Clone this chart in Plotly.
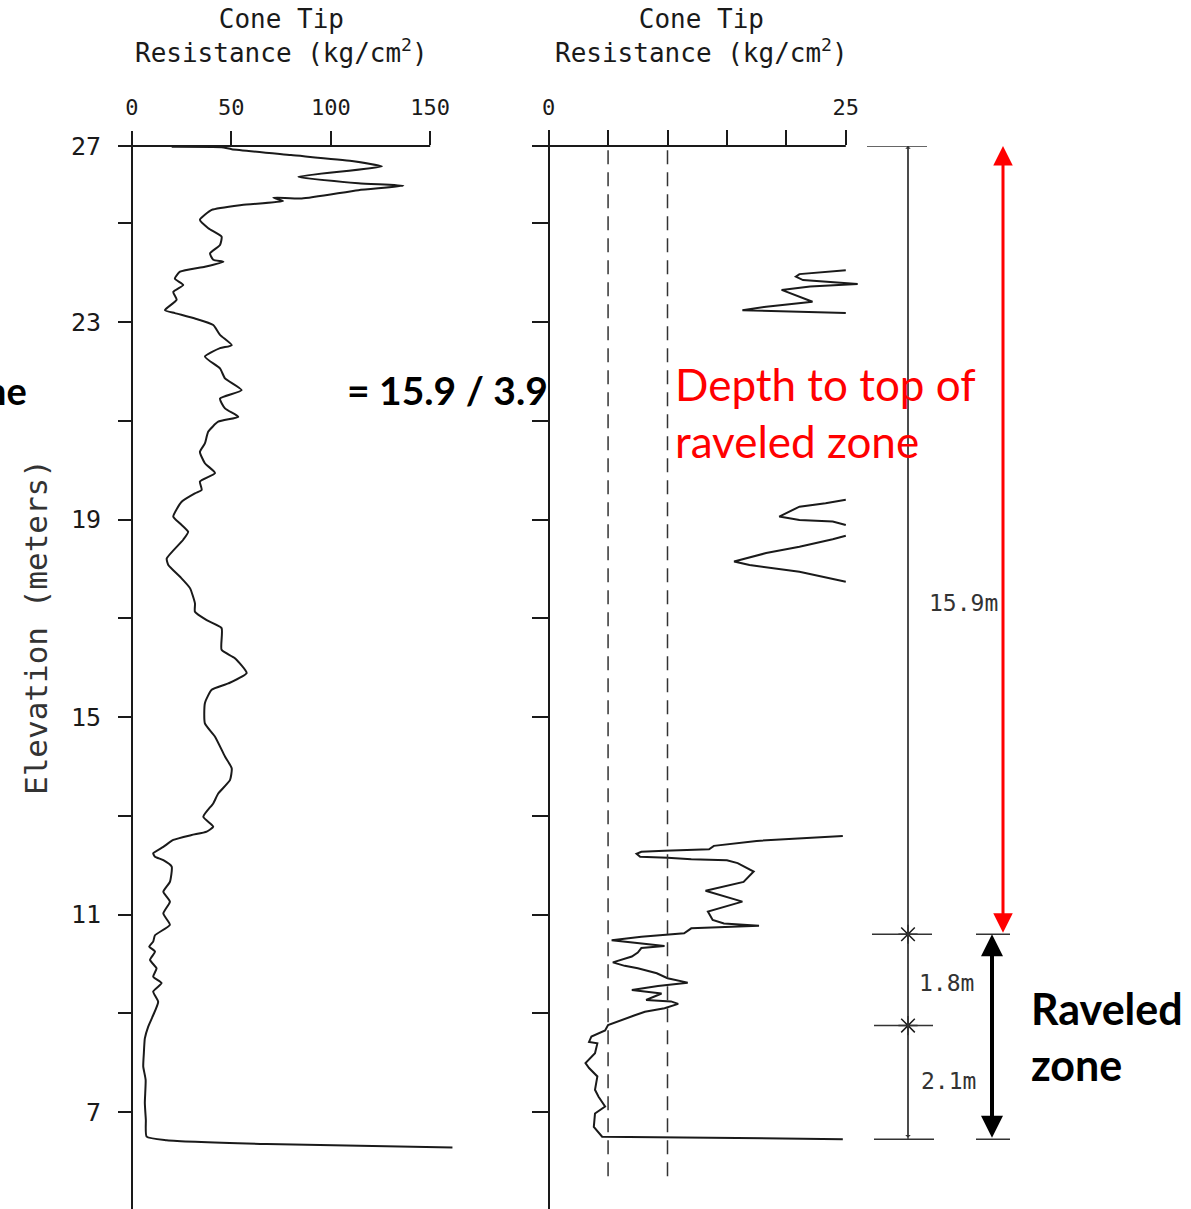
import plotly.graph_objects as go

# ------------------------------------------------------------------ data
# Left profile: elevation (m) and cone tip resistance (kg/cm2), full scale 0-150
left_elev = [26.55, 26.54, 26.50, 26.38, 26.26, 26.15, 25.94, 25.81, 25.76, 25.67, 25.50, 25.52,
             25.45, 25.37, 25.27, 25.07, 24.90, 24.73, 24.56, 24.39, 24.26, 24.22, 24.12, 24.02,
             23.88, 23.75, 23.61, 23.45, 23.24, 23.18, 23.07, 22.94, 22.74, 22.53, 22.47, 22.30,
             22.06, 21.86, 21.62, 21.45, 21.25, 21.08, 20.98, 20.78, 20.54, 20.37, 20.14, 19.94,
             19.77, 19.60, 19.53, 19.36, 19.06, 18.92, 18.75, 18.59, 18.21, 18.08, 17.84, 17.61,
             17.30, 17.13, 16.96, 16.80, 16.36, 16.19, 15.89, 15.68, 15.55, 15.28, 14.87, 14.60,
             14.20, 13.96, 13.72, 13.45, 13.25, 12.98, 12.78, 12.68, 12.61, 12.51, 12.37, 12.24,
             12.17, 12.10, 11.97, 11.66, 11.46, 11.26, 11.02, 10.79, 10.58, 10.45, 10.35, 10.25,
             10.08, 9.91, 9.74, 9.61, 9.44, 9.23, 8.96, 8.73, 8.49, 8.19, 7.92, 7.65, 7.18, 6.84,
             6.50, 6.43, 6.35, 6.28]
left_qc = [20.0, 45.0, 50.2, 80.0, 110.6, 125.7, 83.7, 113.9, 136.5, 113.9, 85.4, 71.1,
           76.0, 55.2, 40.1, 34.2, 38.4, 45.1, 44.3, 39.3, 40.9, 46.0, 36.7, 24.2,
           21.6, 25.8, 20.8, 22.5, 16.6, 21.6, 31.7, 40.9, 44.3, 50.2, 44.3, 36.7,
           44.3, 46.8, 55.2, 44.3, 46.8, 53.5, 43.4, 38.4, 36.7, 34.2, 36.7, 41.8,
           34.2, 35.1, 31.7, 25.0, 20.8, 24.2, 28.3, 25.8, 17.5, 18.3, 24.2, 29.2,
           31.7, 31.7, 37.6, 45.1, 45.1, 51.8, 57.7, 48.5, 40.1, 36.7, 36.7, 41.8,
           46.8, 50.2, 49.3, 43.4, 40.9, 35.9, 40.9, 37.6, 30.0, 20.8, 15.8, 10.7,
           11.6, 15.8, 20.0, 19.1, 15.8, 19.1, 15.8, 19.1, 11.6, 10.7, 8.7, 11.6,
           9.1, 12.4, 10.7, 14.9, 10.7, 13.2, 10.7, 8.2, 6.5, 6.0, 5.7, 6.9, 6.5, 7.0,
           7.4, 17.5, 67.8, 161.2]

# Right profile: same sounding on an expanded 0-25 scale (off-scale parts are not drawn)
right_elev = [24.05, 23.97, 23.92, 23.85, 23.77, 23.72, 23.65, 23.41, 23.31, 23.24, 23.18, None,
              19.40, 19.33, 19.26, 19.06, 18.99, 18.96, 18.89, None,
              18.67, 18.60, 18.45, 18.32, 18.15, 18.08, 17.94, 17.74, None,
              12.59, 12.49, 12.39, 12.32, 12.29, 12.27, 12.23, 12.17, 12.15, 12.12, 12.10, 12.04,
              11.87, 11.66, 11.48, 11.36, 11.26, 11.06, 10.89, 10.82, 10.77, 10.72, 10.62, 10.55,
              10.48, 10.43, 10.36, 10.32, 10.23, 10.15, 10.03, 9.96, 9.91, 9.81, 9.71, 9.62,
              9.55, 9.47, 9.40, 9.34, 9.27, 9.24, 9.19, 9.10, 9.03, 8.96, 8.76, 8.65, 8.53,
              8.42, 8.39, 8.19, 7.99, 7.89, 7.72, 7.45, 7.31, 7.11, 6.97, 6.70, 6.50, 6.45]
right_qc = [25.0, 21.1, 20.8, 21.4, 26.0, 22.0, 19.6, 22.2, 18.3, 16.3, 25.0, None,
            25.0, 23.3, 21.1, 19.4, 21.1, 23.9, 25.0, None,
            25.0, 23.9, 21.1, 18.3, 15.6, 16.9, 21.1, 25.0, None,
            24.75, 17.5, 13.9, 13.5, 9.75, 7.8, 7.4, 7.7, 10.0, 12.0, 15.0, 15.9,
            17.25, 16.4, 13.2, 15.0, 16.3, 13.4, 13.8, 14.75, 17.7, 12.0, 11.4, 7.8,
            5.3, 7.25, 9.75, 7.8, 7.5, 7.0, 5.4, 6.4, 7.5, 9.1, 10.0, 11.7,
            9.2, 7.0, 9.5, 8.9, 8.2, 10.3, 10.9, 9.75, 8.1, 7.25, 5.0, 4.75, 3.6,
            3.4, 4.1, 3.9, 3.1, 3.4, 4.1, 3.9, 4.2, 4.75, 3.9, 3.8, 4.5, 24.75]

left_x_ticks = [0, 50, 100, 150]
right_x_ticks = [0, 5, 10, 15, 20, 25]
right_x_ticktext = ["0", "", "", "", "", "25"]
ref_lines_qc = [5, 10]            # dashed reference lines (kg/cm2)
ref_line_bottom_elev = 5.7
elev_minor_ticks = [25, 23, 21, 19, 17, 15, 13, 11, 9, 7, 5]
elev_labels = {23: "23", 19: "19", 15: "15", 11: "11", 7: "7"}
top_label = "27"

# raveled-zone boundaries (elevation, m) and dimension labels
zone_top_elev = 10.6
zone_mid_elev = 8.75
zone_bot_elev = 6.45
dim_labels = ["15.9m", "1.8m", "2.1m"]

# ------------------------------------------------------------------ layout constants
W, H = 1191, 1209
Y_TOP = 7 + (1112 - 146) / 49.375
Y_BOT = 7 - (1209 - 1112) / 49.375
y_dom = [0, 1 - 146 / H]

def px(p):
    return p / W

def py(p):
    return 1 - p / H

PLOT_FONT = "DejaVu Sans Mono"
INK = "#1a1a1a"

fig = go.Figure()

fig.add_trace(go.Scatter(x=left_qc, y=left_elev, mode="lines", xaxis="x", yaxis="y",
                         line=dict(color=INK, width=2, shape="spline", smoothing=0.5),
                         showlegend=False, hoverinfo="skip"))
fig.add_trace(go.Scatter(x=right_qc, y=right_elev, mode="lines", xaxis="x2", yaxis="y2",
                         line=dict(color=INK, width=2), showlegend=False, hoverinfo="skip",
                         connectgaps=False))

# asterisk markers on the dimension line
fig.add_trace(go.Scatter(x=[908, 908], y=[zone_top_elev, zone_mid_elev], mode="markers",
                         xaxis="x3", yaxis="y2",
                         marker=dict(symbol="asterisk-open", size=16, color=INK,
                                     line=dict(width=1.5, color=INK)),
                         showlegend=False, hoverinfo="skip"))

left_tickvals = [Y_TOP] + elev_minor_ticks
left_ticktext = [top_label] + [elev_labels.get(v, "") for v in elev_minor_ticks]

axis_common = dict(showgrid=False, showline=False, color=INK, automargin=False)

fig.update_layout(
    width=W, height=H, margin=dict(l=0, r=0, t=0, b=0, pad=0, autoexpand=False),
    paper_bgcolor="white", plot_bgcolor="white", showlegend=False,
    xaxis=dict(domain=[px(118), px(460)], range=[-7, 165], side="top", anchor="y",
               tickvals=left_x_ticks, ticks="outside", ticklen=14, tickwidth=2, tickcolor=INK,
               zeroline=True, zerolinecolor=INK, zerolinewidth=2,
               tickfont=dict(family=PLOT_FONT, size=22, color=INK), ticklabelstandoff=7,
               **axis_common),
    yaxis=dict(domain=y_dom, range=[Y_BOT, Y_TOP], anchor="x",
               tickvals=left_tickvals, ticktext=left_ticktext, ticks="inside", ticklen=14,
               tickwidth=2, tickcolor=INK, zeroline=False,
               tickfont=dict(family=PLOT_FONT, size=25, color=INK), ticklabelstandoff=16,
               **axis_common),
    xaxis2=dict(domain=[px(532), px(866)], range=[-1.4, 26.7], side="top", anchor="y2",
                tickvals=right_x_ticks, ticktext=right_x_ticktext, ticks="outside", ticklen=15,
                tickwidth=2, tickcolor=INK, zeroline=True, zerolinecolor=INK, zerolinewidth=2,
                tickfont=dict(family=PLOT_FONT, size=22, color=INK), ticklabelstandoff=6,
                **axis_common),
    yaxis2=dict(domain=y_dom, range=[Y_BOT, Y_TOP], anchor="x2",
                tickvals=elev_minor_ticks, ticks="inside", ticklen=16, tickwidth=2,
                tickcolor=INK, showticklabels=False, zeroline=False, **axis_common),
    xaxis3=dict(domain=[px(860), 1.0], range=[860, 1191], anchor="y2", visible=False,
                showgrid=False, zeroline=False, automargin=False),
)

shapes = []
# top axis lines
shapes.append(dict(type="line", xref="x", yref="y domain", x0=-7, x1=150, y0=1, y1=1,
                   line=dict(color=INK, width=2)))
shapes.append(dict(type="line", xref="x2", yref="y2 domain", x0=-1.4, x1=25, y0=1, y1=1,
                   line=dict(color=INK, width=2)))
# dashed reference lines
for q in ref_lines_qc:
    shapes.append(dict(type="line", xref="x2", yref="y2", x0=q, x1=q,
                       y0=ref_line_bottom_elev, y1=Y_TOP,
                       line=dict(color="#333333", width=1.5, dash="14px,8px")))
# dimension line and its ticks
shapes.append(dict(type="line", xref="x3", yref="y2", x0=908, x1=908,
                   y0=zone_bot_elev, y1=Y_TOP, line=dict(color="#333333", width=1.3)))
for (xa, xb, e) in [(867, 927, Y_TOP), (872, 932, zone_top_elev),
                    (874, 933, zone_mid_elev), (874, 934, zone_bot_elev)]:
    shapes.append(dict(type="line", xref="x3", yref="y2", x0=xa, x1=xb, y0=e, y1=e,
                       line=dict(color="#333333", width=1.5)))
for e in [zone_top_elev, zone_bot_elev]:
    shapes.append(dict(type="line", xref="x3", yref="y2", x0=976, x1=1010, y0=e, y1=e,
                       line=dict(color="#333333", width=1.5)))
fig.update_layout(shapes=shapes)

ann = []
# panel titles
for cx in (281, 701):
    ann.append(dict(xref="paper", yref="paper", x=px(cx), y=py(36), xanchor="center",
                    yanchor="middle", showarrow=False,
                    text="Cone Tip<br>Resistance (kg/cm<sup>2</sup>)",
                    font=dict(family=PLOT_FONT, size=26, color=INK)))
ann.append(dict(xref="paper", yref="paper", x=px(36), y=py(627), textangle=-90,
                xanchor="center", yanchor="middle", showarrow=False,
                text="Elevation (meters)", font=dict(family=PLOT_FONT, size=31, color="#333333")))
# dimension labels
for txt, lx, ly in zip(dim_labels, (927, 917, 919), (603, 983, 1081)):
    ann.append(dict(xref="paper", yref="paper", x=px(lx), y=py(ly), xanchor="left",
                    yanchor="middle", showarrow=False, text=txt,
                    font=dict(family=PLOT_FONT, size=23, color="#333333")))
# dimension arrowheads
ann.append(dict(xref="x3", yref="y2", axref="x3", ayref="y2", x=908, y=Y_TOP, ax=908,
                ay=zone_bot_elev, text="", showarrow=True, arrowside="end+start",
                arrowhead=1, arrowsize=0.7, arrowwidth=1.3, arrowcolor="#333333"))
# red arrow: depth to top of raveled zone
ann.append(dict(xref="x3", yref="y2", axref="x3", ayref="y2", x=1003, y=Y_TOP, ax=1003,
                ay=zone_top_elev, text="", showarrow=True, arrowside="end+start",
                arrowhead=2, arrowsize=1.3, arrowwidth=3, arrowcolor="#ff0000"))
# black arrow: raveled zone thickness
ann.append(dict(xref="x3", yref="y2", axref="x3", ayref="y2", x=992, y=zone_top_elev, ax=992,
                ay=zone_bot_elev, text="", showarrow=True, arrowside="end+start",
                arrowhead=2, arrowsize=1.1, arrowwidth=4, arrowcolor="#000000"))
# overlay texts
ann.append(dict(xref="paper", yref="paper", x=px(673), y=py(412), xanchor="left",
                yanchor="middle", align="left", showarrow=False,
                text="Depth to top of<br>raveled zone",
                font=dict(family="Lato", size=44, color="#ff0000")))
ann.append(dict(xref="paper", yref="paper", x=px(345), y=py(390), xanchor="left",
                yanchor="middle", showarrow=False, text="= 15.9 / 3.9",
                font=dict(family="Lato", size=39, color="#000000", weight="bold")))
# fragment of a word running in from the left edge, clipped there as in the original slide
ann.append(dict(xref="paper", yref="paper", x=px(29), y=py(390), xanchor="right",
                yanchor="middle", showarrow=False, text="ne",
                font=dict(family="Lato", size=38, color="#000000", weight="bold")))
ann.append(dict(xref="paper", yref="paper", x=px(1029), y=py(1036), xanchor="left",
                yanchor="middle", align="left", showarrow=False, text="Raveled<br>zone",
                font=dict(family="Lato", size=43, color="#000000", weight="bold")))
fig.update_layout(annotations=ann)

fig.write_html("out.html")
